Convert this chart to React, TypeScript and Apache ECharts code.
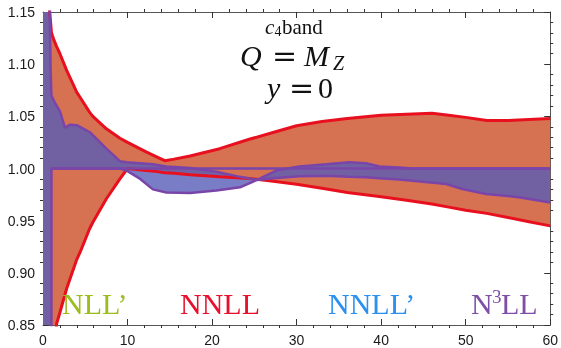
import React, { useEffect, useRef } from "react";
import * as echarts from "echarts";

// NNLL band (red edges, orange fill)
const redX = [0, 0.5, 0.8, 1.0, 1.3, 1.6, 2.0, 2.8, 4.0, 4.4, 5.5, 5.9, 7.5, 9.1, 10.0, 12.2, 13.5, 14.4, 15.5, 17.4, 20.9, 24.4, 27, 30, 33, 36, 40, 43, 46, 48, 50, 52.5, 55, 57.5, 60];
const redHigh = [1.25, 1.19, 1.15, 1.13, 1.123, 1.117, 1.11, 1.094, 1.073, 1.068, 1.054, 1.05, 1.038, 1.029, 1.025, 1.016, 1.011, 1.0075, 1.009, 1.012, 1.019, 1.028, 1.034, 1.041, 1.045, 1.048, 1.051, 1.052, 1.053, 1.051, 1.049, 1.046, 1.046, 1.047, 1.048];
const redLow = [0.5, 0.62, 0.72, 0.78, 0.818, 0.851, 0.862, 0.885, 0.913, 0.92, 0.942, 0.9485, 0.971, 0.99, 1.0, 0.998, 0.997, 0.996, 0.9955, 0.994, 0.992, 0.9905, 0.988, 0.985, 0.981, 0.977, 0.973, 0.9695, 0.966, 0.963, 0.96, 0.957, 0.953, 0.949, 0.945];

// NNLL' band (semi-transparent blue fill, purple edges)
const bandX = [0, 0.6, 0.8, 0.9, 0.99, 1.0, 1.4, 2.0, 2.6, 3.2, 4.0, 5.5, 7.5, 9.1, 9.9, 11.5, 13.0, 14.6, 17.4, 20.5, 23.3, 25.3, 27.6, 30.3, 33.5, 36.2, 38.2, 39.8, 42.1, 43.7, 47.7, 49.6, 52.4, 56.3, 60];
const bandHigh = [1.3, 1.2, 1.15, 1.095, 1.072, 1.07, 1.063, 1.055, 1.039, 1.042, 1.0415, 1.035, 1.019, 1.007, 1.006, 1.005, 1.004, 1.002, 1.0005, 0.997, 0.992, 0.989, 0.998, 1.002, 1.004, 1.006, 1.005, 1.002, 1.001, 1.0, 1.0, 1.0, 1.0, 1.0, 1.0];
const bandLow = [0.5, 0.5, 0.5, 0.5, 0.5, 1.0, 1.0, 1.0, 1.0, 1.0, 1.0, 1.0, 1.0, 1.0, 0.998, 0.99, 0.98, 0.977, 0.9766, 0.979, 0.982, 0.989, 0.991, 0.9925, 0.993, 0.992, 0.9915, 0.9906, 0.9895, 0.9883, 0.9852, 0.9804, 0.9756, 0.9725, 0.9675];

// central line
const centralX = [1, 60];
const centralY = [1, 1];

const xTicks = [0, 10, 20, 30, 40, 50, 60];
const yTicks = [0.85, 0.9, 0.95, 1.0, 1.05, 1.1, 1.15];

const ORANGE = "#d67252";
const RED = "#e8101e";
const BLUE_FILL = "rgba(88,92,184,0.8)";
const PURPLE = "#7a45a8";

const pairs = (xs: number[], ys: number[]) => xs.map((x, i) => [x, ys[i]]);

const bandSeries = (xs: number[], hi: number[], lo: number[], fill: string) => ({
  type: "custom",
  coordinateSystem: "cartesian2d",
  clip: true,
  silent: true,
  data: xs.map((x, i) => [x, hi[i], lo[i]]),
  encode: { x: 0, y: [1, 2] },
  renderItem: (params: any, api: any) => {
    if (params.dataIndex !== 0) return null;
    const pts: number[][] = [];
    for (let i = 0; i < xs.length; i++) pts.push(api.coord([xs[i], hi[i]]));
    for (let i = xs.length - 1; i >= 0; i--) pts.push(api.coord([xs[i], lo[i]]));
    return { type: "polygon", shape: { points: pts }, style: { fill } };
  },
});

export default function App() {
  const ref = useRef<HTMLDivElement>(null);
  useEffect(() => {
    if (!ref.current) return;
    const chart = echarts.init(ref.current, undefined, { renderer: "svg" });
    const axisCommon = {
      min: xTicks[0],
      max: xTicks[xTicks.length - 1],
      interval: 10,
      axisLine: { show: true, onZero: false, lineStyle: { color: "#555", width: 1 } },
      axisTick: { show: true, inside: true, length: 6, lineStyle: { color: "#333" } },
      minorTick: { show: true, splitNumber: 5, length: -3, lineStyle: { color: "#333" } },
      splitLine: { show: false },
    };
    const yCommon = {
      min: yTicks[0],
      max: yTicks[yTicks.length - 1],
      interval: 0.05,
      axisLine: { show: true, onZero: false, lineStyle: { color: "#555", width: 1 } },
      axisTick: { show: true, inside: true, length: 6, lineStyle: { color: "#333" } },
      minorTick: { show: true, splitNumber: 5, length: -3, lineStyle: { color: "#333" } },
      splitLine: { show: false },
    };
    const labelFont = { fontFamily: "Liberation Sans", fontSize: 14, color: "#1a1a1a" };
    const noSym = { symbol: "none", silent: true };
    const serif = "Liberation Serif";
    const txt = (x: number, y: number, text: string, size: number, color: string, italic = false, font = serif) => ({
      type: "text",
      x,
      y,
      z: 100,
      silent: true,
      style: {
        text,
        fontSize: size,
        fontFamily: font,
        fontStyle: italic ? "italic" : "normal",
        fill: color,
        align: "left",
        verticalAlign: "middle",
      },
    });
    chart.setOption({
      animation: false,
      grid: { left: 43, right: 10, top: 12, bottom: 23, containLabel: false },
      xAxis: [
        { type: "value", position: "bottom", ...axisCommon, axisLabel: { ...labelFont, margin: 8, formatter: (v: number) => String(v) } },
        { type: "value", position: "top", ...axisCommon, axisLabel: { show: false } },
      ],
      yAxis: [
        { type: "value", position: "left", ...yCommon, axisLabel: { ...labelFont, margin: 8, formatter: (v: number) => v.toFixed(2) } },
        { type: "value", position: "right", ...yCommon, axisLabel: { show: false } },
      ],
      series: [
        bandSeries(redX, redHigh, redLow, ORANGE),
        { type: "line", ...noSym, data: pairs(redX, redLow), lineStyle: { color: RED, width: 3 } },
        { type: "line", ...noSym, data: pairs(redX, redHigh), lineStyle: { color: RED, width: 3 } },
        bandSeries(bandX, bandHigh, bandLow, BLUE_FILL),
        { type: "line", ...noSym, data: pairs(bandX, bandLow), lineStyle: { color: PURPLE, width: 2.5 } },
        { type: "line", ...noSym, data: pairs(bandX, bandHigh), lineStyle: { color: PURPLE, width: 2.5 } },
        { type: "line", ...noSym, data: pairs(centralX, centralY), lineStyle: { color: PURPLE, width: 2.5 } },
      ],
      graphic: [
        txt(265, 27, "c", 21, "#111", true),
        txt(274.5, 31, "4", 14, "#111"),
        txt(282, 27, "band", 21, "#111"),
        txt(240, 55, "Q", 30, "#111", true),
        txt(272, 55, "=", 30, "#111", false, "DejaVu Serif"),
        txt(304, 55, "M", 30, "#111", true),
        txt(333, 63, "Z", 20, "#111", true),
        txt(267, 87, "y", 30, "#111", true),
        txt(289, 87, "=", 30, "#111", false, "DejaVu Serif"),
        txt(318, 87, "0", 30, "#111"),
        txt(62, 303, "NLL\u2019", 30, "#9cbc1f"),
        txt(180, 303, "NNLL", 30, "#e8102e"),
        txt(328, 303, "NNLL\u2019", 30, "#2b90f0"),
        txt(471, 303, "N", 30, "#7d4fa6"),
        txt(492, 296, "3", 19, "#7d4fa6"),
        txt(501, 303, "LL", 30, "#7d4fa6"),
      ],
    });
    return () => chart.dispose();
  }, []);
  return <div ref={ref} style={{ position: "fixed", left: 0, top: 0, width: 561, height: 348 }} />;
}
